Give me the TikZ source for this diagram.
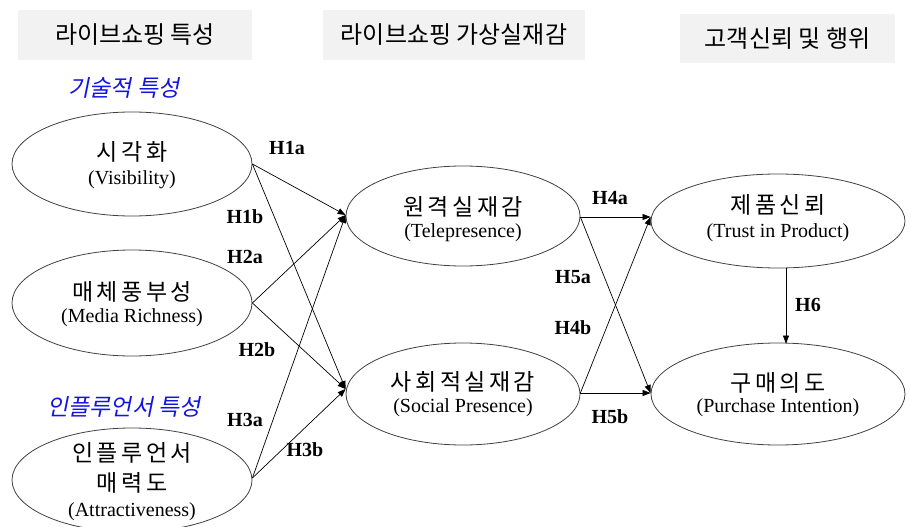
\documentclass[tikz,border=0pt]{standalone}
\usepackage{fontspec}
\setmainfont{Liberation Serif}
\newfontfamily\kr{Noto Sans CJK KR}
\newfontfamily\krsp[LetterSpace=15]{Noto Sans CJK KR}
\newfontfamily\krit[FakeSlant=0.2]{Noto Sans CJK KR}
\usetikzlibrary{shapes.geometric,arrows.meta}
\definecolor{hdr}{RGB}{242,242,242}
\definecolor{ttl}{RGB}{20,20,225}
\tikzset{
 hdrbox/.style={fill=hdr,draw=none,inner sep=0,font=\kr\fontsize{24}{28}\selectfont},
 cat/.style={font=\krit\fontsize{23}{27}\selectfont,text=ttl,inner sep=0},
 construct/.style={ellipse,draw=black!75,line width=0.8pt,inner sep=0},
 kname/.style={font=\krsp\fontsize{23}{27}\selectfont,inner sep=0},
 ename/.style={font=\fontsize{20}{24}\selectfont,inner sep=0},
 hyp/.style={font=\bfseries\fontsize{20}{24}\selectfont,inner sep=0},
 link/.style={draw,line width=0.7pt,-{Triangle[length=8pt,width=6pt]}}
}
\begin{document}
\begin{tikzpicture}[x=1pt,y=-1pt]
\useasboundingbox (0,0) rectangle (911,527);
\clip (0,0) rectangle (911,527);
% headers
\node[hdrbox,minimum width=234pt,minimum height=50pt] (h1) at (135,35) {라이브쇼핑 특성};
\node[hdrbox,minimum width=262pt,minimum height=50pt] (h2) at (454,35) {라이브쇼핑 가상실재감};
\node[hdrbox,minimum width=215pt,minimum height=49pt] (h3) at (787.5,38.5) {고객신뢰 및 행위};
% categories
\node[cat] (c1) at (124,88) {기술적 특성};
\node[cat] (c2) at (124,407) {인플루언서 특성};
% ellipses
\node[construct,minimum width=240pt,minimum height=104pt] (v) at (132,164) {};
\node[construct,minimum width=240pt,minimum height=106pt] (m) at (132,303) {};
\node[construct,minimum width=240pt,minimum height=104pt] (a) at (132,480) {};
\node[construct,minimum width=234pt,minimum height=100pt] (tp) at (463,216) {};
\node[construct,minimum width=234pt,minimum height=102pt] (sp) at (463,394) {};
\node[construct,minimum width=254pt,minimum height=94pt] (tr) at (778,221) {};
\node[construct,minimum width=254pt,minimum height=102pt] (pi) at (778,394) {};
% texts
\node[kname] (vk) at (132,152) {시각화};
\node[ename] (ve) at (132,180) {(Visibility)};
\node[kname] (mk) at (132,292) {매체풍부성};
\node[ename] (me) at (132,318) {(Media Richness)};
\node[kname] (ak1) at (132,453) {인플루언서};
\node[kname] (ak2) at (132,483) {매력도};
\node[ename] (ae) at (132,512) {(Attractiveness)};
\node[kname] (tpk) at (463,207) {원격실재감};
\node[ename] (tpe) at (463,233) {(Telepresence)};
\node[kname] (spk) at (463,382) {사회적실재감};
\node[ename] (spe) at (463,408) {(Social Presence)};
\node[kname] (trk) at (778,205) {제품신뢰};
\node[ename] (tre) at (778,233) {(Trust in Product)};
\node[kname] (pik) at (778,383) {구매의도};
\node[ename] (pie) at (778,408) {(Purchase Intention)};
% connectors
\draw[link] (v.east) -- ([yshift=1pt]tp.west);
\draw[link] (v.east) -- ([yshift=5pt]sp.west);
\draw[link] (m.east) -- ([yshift=1pt]tp.west);
\draw[link] (m.east) -- ([yshift=5pt]sp.west);
\draw[link] ([yshift=2pt]a.east) -- ([yshift=1pt]tp.west);
\draw[link] ([yshift=2pt]a.east) -- ([yshift=5pt]sp.west);
\draw[link] ([yshift=-1pt]tp.east) -- ([yshift=4pt]tr.west);
\draw[link] ([yshift=-1pt]tp.east) -- ([yshift=1pt]pi.west);
\draw[link] ([yshift=1pt]sp.east) -- ([yshift=4pt]tr.west);
\draw[link] ([yshift=1pt]sp.east) -- ([yshift=1pt]pi.west);
\draw[link] ([xshift=8pt]tr.south) -- ([xshift=8pt,yshift=-1pt]pi.north);
% hypothesis labels
\node[hyp] (l1a) at (287,148) {H1a};
\node[hyp] (l1b) at (245,217) {H1b};
\node[hyp] (l2a) at (245,257) {H2a};
\node[hyp] (l2b) at (257,350) {H2b};
\node[hyp] (l3a) at (245,420) {H3a};
\node[hyp] (l3b) at (305,450) {H3b};
\node[hyp] (l4a) at (610,198) {H4a};
\node[hyp] (l5a) at (573,277) {H5a};
\node[hyp] (l4b) at (573,328) {H4b};
\node[hyp] (l5b) at (610,417) {H5b};
\node[hyp] (l6) at (808,305) {H6};
\end{tikzpicture}
\end{document}
